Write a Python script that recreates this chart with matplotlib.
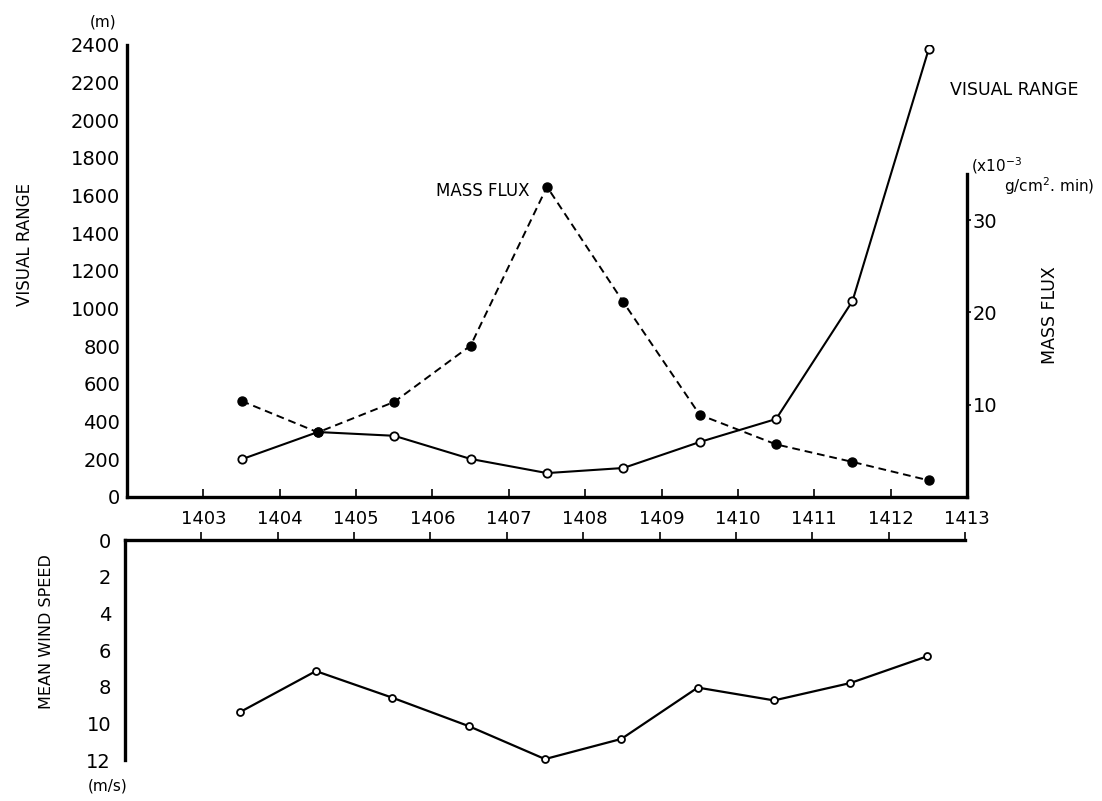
import matplotlib
matplotlib.use('Agg')
import matplotlib.pyplot as plt

# hourly midpoints (time of day, hhmm scale used on the axis)
times = [1403.5, 1404.5, 1405.5, 1406.5, 1407.5, 1408.5, 1409.5, 1410.5, 1411.5, 1412.5]
visual_range = [200, 345, 325, 202, 127, 154, 292, 414, 1040, 2380]      # m
mass_flux = [10.4, 7.0, 10.3, 16.4, 33.6, 21.1, 8.9, 5.7, 3.8, 1.8]      # x1e-3 g/cm2.min
wind_speed = [9.4, 7.15, 8.6, 10.15, 11.95, 10.85, 8.05, 8.75, 7.8, 6.35]  # m/s

hour_ticks = list(range(1403, 1414))
vr_ticks = list(range(0, 2401, 200))
mf_ticks = [10, 20, 30]
ws_ticks = list(range(0, 13, 2))

W, H = 1102, 801


def fx(x):
    return x / W


def fy(y):
    return 1 - y / H


fig = plt.figure(figsize=(W / 100, H / 100), dpi=100)
fig.patch.set_facecolor('white')

# upper panel: visual range + mass flux
ax = fig.add_axes([fx(127), fy(497), (967 - 127) / W, (497 - 45) / H])
ax.set_xlim(1402, 1413)
ax.set_ylim(0, 2400)
for s in ['top', 'right']:
    ax.spines[s].set_visible(False)
for s in ['left', 'bottom']:
    ax.spines[s].set_linewidth(2.4)
ax.set_xticks(hour_ticks)
ax.set_xticklabels([str(t) for t in hour_ticks], fontsize=13)
ax.tick_params(axis='x', direction='in', length=6, width=1.2, pad=9)
ax.set_yticks(vr_ticks)
ax.set_yticklabels([str(v) for v in vr_ticks], fontsize=14)
ax.tick_params(axis='y', length=0, pad=5)

ax.plot(times, visual_range, color='black', lw=1.5, marker='o', ms=6,
        mfc='white', mec='black', mew=1.3, zorder=3)

axm = ax.twinx()
axm.set_ylim(0, (497 - 45) / 9.233)
for s in ['top', 'left', 'bottom']:
    axm.spines[s].set_visible(False)
axm.spines['right'].set_linewidth(2.4)
axm.spines['right'].set_bounds(0, 35)
axm.set_yticks(mf_ticks)
axm.set_yticklabels([str(v) for v in mf_ticks], fontsize=14)
axm.tick_params(axis='y', direction='out', length=3, width=1.2, pad=1)
axm.plot(times, mass_flux, color='black', lw=1.4, ls=(0, (4, 2.5)),
         marker='o', ms=6.5, mfc='black', mec='black', zorder=4)

# lower panel: mean wind speed (inverted)
axw = fig.add_axes([fx(125), fy(760), (965 - 125) / W, (760 - 540) / H])
axw.set_xlim(1402, 1413)
axw.set_ylim(12, 0)
for s in ['bottom', 'right']:
    axw.spines[s].set_visible(False)
for s in ['left', 'top']:
    axw.spines[s].set_linewidth(2.4)
axw.xaxis.tick_top()
axw.set_xticks(hour_ticks)
axw.tick_params(axis='x', direction='out', length=6, width=1.2, labeltop=False)
axw.set_yticks(ws_ticks)
axw.set_yticklabels([str(v) for v in ws_ticks], fontsize=14)
axw.tick_params(axis='y', length=0, pad=10)
axw.plot(times, wind_speed, color='black', lw=1.6, marker='o', ms=5,
         mfc='white', mec='black', mew=1.3, clip_on=False)

# labels and annotations
fig.text(fx(103), fy(22), '(m)', fontsize=11, ha='center', va='center')
fig.text(fx(25), fy(244), 'VISUAL RANGE', fontsize=12, rotation=90,
         ha='center', va='center')
fig.text(fx(530), fy(191), 'MASS FLUX', fontsize=12, ha='right', va='center')
fig.text(fx(950), fy(90), 'VISUAL RANGE', fontsize=12.5, ha='left', va='center')
fig.text(fx(971), fy(166), r'(x10$^{-3}$', fontsize=11, ha='left', va='center')
fig.text(fx(1004), fy(186), r'g/cm$^{2}$. min)', fontsize=11, ha='left', va='center')
fig.text(fx(1050), fy(315), 'MASS FLUX', fontsize=12.5, rotation=90,
         ha='center', va='center')
fig.text(fx(47), fy(632), 'MEAN WIND SPEED', fontsize=11.5, rotation=90,
         ha='center', va='center')
fig.text(fx(108), fy(786), '(m/s)', fontsize=11, ha='center', va='center')

fig.savefig('out.png', dpi=100, facecolor='white')
